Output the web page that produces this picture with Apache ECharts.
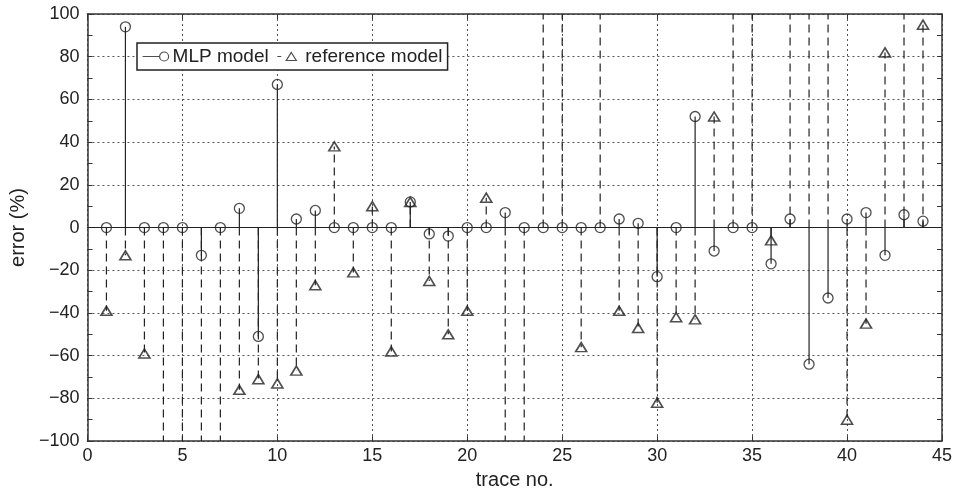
<!DOCTYPE html>
<html>
<head>
<meta charset="utf-8">
<script src="https://cdn.jsdelivr.net/npm/echarts@6/dist/echarts.min.js"></script>
<style>
  html, body { margin: 0; padding: 0; background: #fff; }
  #chart { width: 955px; height: 495px; }
</style>
</head>
<body>
<div id="chart"></div>
<script>
// trace numbers on the x axis
const traceNo = [1, 2, 3, 4, 5, 6, 7, 8, 9, 10, 11, 12, 13, 14, 15, 16, 17, 18, 19, 20, 21, 22,
  23, 24, 25, 26, 27, 28, 29, 30, 31, 32, 33, 34, 35, 36, 37, 38, 39, 40, 41, 42, 43, 44]
// error (%) of the MLP model
const mlpError = [0, 94, 0, 0, 0, -13, 0, 9, -51, 67, 4, 8, 0, 0, 0, 0, 12, -3, -4, 0, 0, 7,
  0, 0, 0, 0, 0, 4, 2, -23, 0, 52, -11, 0, 0, -17, 4, -64, -33, 4, 7, -13, 6, 3]
// error (%) of the reference model (values beyond +-100 are clipped by the axes)
const refError = [-39, -13, -59, -130, -130, -130, -130, -76, -71, -73, -67, -27, 38, -21, 10, -58, 12, -25, -50, -39, 14, -130,
  -130, 130, 130, -56, 130, -39, -47, -82, -42, -43, 52, 130, 130, -6, 130, 130, 130, -90, -45, 82, 130, 95]

const yMin = -100
const yMax = 100
const ink = '#222'

const toPairs = (vals) => traceNo.map((x, i) => [x, vals[i]])

const stemRender = (dash) => {
  return (params, api) => {
    const x = api.value(0)
    const v = Math.max(yMin, Math.min(yMax, api.value(1)))
    const p0 = api.coord([x, 0])
    const p1 = api.coord([x, v])
    return {
      type: 'line',
      shape: { x1: p0[0], y1: p0[1], x2: p1[0], y2: p1[1] },
      style: { stroke: ink, lineWidth: 1.2, lineDash: dash }
    }
  }
}

const minusFmt = (v) => (v < 0 ? '\u2212' + (-v) : '' + v)

const chartInstance = echarts.init(document.getElementById('chart'))
const option = {
  animation: false,
  backgroundColor: '#fff',
  textStyle: { fontFamily: 'Liberation Sans, Arial, sans-serif' },
  grid: { left: 87, right: 13, top: 14, bottom: 47 },
  legend: {
    left: 137,
    top: 43,
    orient: 'horizontal',
    padding: [4, 5, 4, 5],
    itemGap: 6,
    itemWidth: 26,
    itemHeight: 10,
    borderColor: ink,
    borderWidth: 1.5,
    backgroundColor: '#fff',
    itemStyle: { color: 'rgba(0,0,0,0)', borderColor: ink, borderWidth: 1.2 },
    textStyle: { fontSize: 19, color: ink, padding: [0, 0, 0, -1] },
    data: [
      { name: 'MLP model', icon: 'path://M0,5L17,5M17,5A4.5,4.5,0,1,1,26,5A4.5,4.5,0,1,1,17,5M0,0L0,0M26,10L26,10' },
      { name: 'reference model', icon: 'path://M2,5L6,5M16,1L21,9L11,9Z M0,0L0,0M26,10L26,10' }
    ]
  },
  xAxis: [
    {
      type: 'value',
      min: 0,
      max: 45,
      interval: 5,
      name: 'trace no.',
      nameLocation: 'middle',
      nameGap: 23,
      nameTextStyle: { fontSize: 20, color: ink },
      axisLine: { show: true, onZero: false, lineStyle: { color: '#333', width: 1.5 } },
      axisTick: { show: true, inside: true, length: 5, lineStyle: { color: '#333' } },
      axisLabel: { fontSize: 18, color: ink, margin: 6 },
      splitLine: { show: true, lineStyle: { color: '#555', type: [2, 3], width: 1 } }
    },
    {
      type: 'value',
      position: 'top',
      min: 0,
      max: 45,
      interval: 5,
      axisLine: { show: true, onZero: false, lineStyle: { color: '#333', width: 1.5 } },
      axisTick: { show: true, inside: true, length: 5, lineStyle: { color: '#333' } },
      axisLabel: { show: false },
      splitLine: { show: false }
    }
  ],
  yAxis: [
    {
      type: 'value',
      min: yMin,
      max: yMax,
      interval: 20,
      name: 'error (%)',
      nameLocation: 'middle',
      nameGap: 54,
      nameTextStyle: { fontSize: 20, color: ink },
      axisLine: { show: true, onZero: false, lineStyle: { color: '#333', width: 1.5 } },
      axisTick: { show: true, inside: true, length: 5, lineStyle: { color: '#333' } },
      minorTick: { show: true, splitNumber: 2, length: 5, lineStyle: { color: '#333' } },
      axisLabel: { fontSize: 18, color: ink, margin: 8, formatter: minusFmt },
      splitLine: { show: true, lineStyle: { color: '#555', type: [2, 3], width: 1 } }
    },
    {
      type: 'value',
      position: 'right',
      min: yMin,
      max: yMax,
      interval: 20,
      axisLine: { show: true, onZero: false, lineStyle: { color: '#333', width: 1.5 } },
      axisTick: { show: true, inside: true, length: 5, lineStyle: { color: '#333' } },
      minorTick: { show: true, splitNumber: 2, length: 5, lineStyle: { color: '#333' } },
      axisLabel: { show: false },
      splitLine: { show: false }
    }
  ],
  series: [
    {
      name: 'reference stems',
      type: 'custom',
      renderItem: stemRender([8, 5]),
      data: toPairs(refError),
      z: 2,
      silent: true
    },
    {
      name: 'MLP stems',
      type: 'custom',
      renderItem: stemRender(null),
      data: toPairs(mlpError),
      z: 3,
      silent: true,
      markLine: {
        silent: true,
        symbol: 'none',
        label: { show: false },
        lineStyle: { color: ink, type: 'solid', width: 1.2 },
        data: [{ yAxis: 0 }]
      }
    },
    {
      name: 'MLP model',
      type: 'scatter',
      symbol: 'circle',
      symbolSize: 10,
      clip: true,
      data: toPairs(mlpError),
      itemStyle: { color: 'rgba(0,0,0,0)', borderColor: ink, borderWidth: 1.3 },
      z: 5
    },
    {
      name: 'reference model',
      type: 'scatter',
      symbol: 'triangle',
      symbolSize: [11, 9],
      clip: true,
      data: toPairs(refError),
      itemStyle: { color: 'rgba(0,0,0,0)', borderColor: ink, borderWidth: 1.6 },
      z: 5
    }
  ]
}
chartInstance.setOption(option)
</script>
</body>
</html>
